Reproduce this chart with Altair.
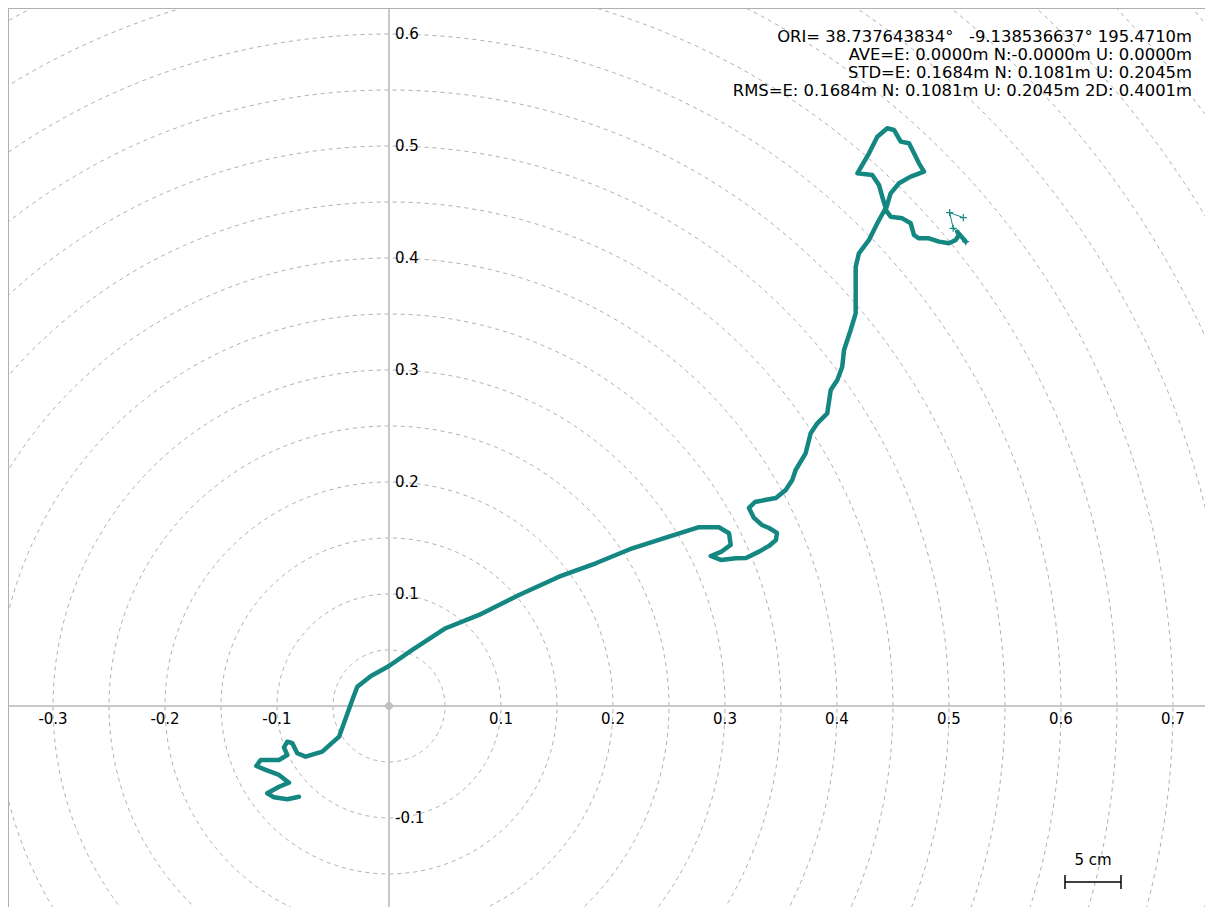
import altair as alt
import pandas as pd
import numpy as np

# ---- trajectory (E, N in metres) ----
traj_e = [-0.0804, -0.0908, -0.1027, -0.1087, -0.0982, -0.0893, -0.0982, -0.1101, -0.1185, -0.1146,
          -0.0982, -0.0908, -0.0938, -0.0908, -0.0863, -0.0819, -0.0744, -0.0596, -0.0446, -0.0328,
          -0.0283, -0.0161, 0.0000, 0.0208, 0.0506, 0.0804, 0.1161, 0.1518, 0.1846, 0.2172,
          0.2500, 0.2768, 0.2946, 0.3036, 0.3051, 0.2964, 0.2872, 0.2964, 0.3096, 0.3188,
          0.3304, 0.3393, 0.3455, 0.3464, 0.3393, 0.3330, 0.3259, 0.3214, 0.3268, 0.3357,
          0.3455, 0.3542, 0.3601, 0.3631, 0.3720, 0.3765, 0.3824, 0.3913, 0.3944, 0.4003,
          0.4047, 0.4063, 0.4122, 0.4167, 0.4167, 0.4196, 0.4286, 0.4360, 0.4435, 0.4404,
          0.4375, 0.4315, 0.4182, 0.4286, 0.4360, 0.4449, 0.4509, 0.4569, 0.4643, 0.4688,
          0.4732, 0.4777, 0.4658, 0.4554, 0.4479, 0.4435, 0.4479, 0.4583, 0.4658, 0.4688,
          0.4732, 0.4821, 0.4911, 0.5000, 0.5060, 0.5089, 0.5074, 0.5149]
traj_n = [-0.0810, -0.0833, -0.0815, -0.0780, -0.0721, -0.0685, -0.0616, -0.0571, -0.0536, -0.0482,
          -0.0482, -0.0438, -0.0369, -0.0319, -0.0333, -0.0422, -0.0453, -0.0408, -0.0274, 0.0054,
          0.0172, 0.0268, 0.0357, 0.0500, 0.0694, 0.0813, 0.0991, 0.1154, 0.1274, 0.1408,
          0.1512, 0.1596, 0.1596, 0.1542, 0.1438, 0.1375, 0.1339, 0.1304, 0.1319, 0.1321,
          0.1378, 0.1429, 0.1482, 0.1545, 0.1589, 0.1616, 0.1679, 0.1768, 0.1821, 0.1839,
          0.1857, 0.1929, 0.2018, 0.2107, 0.2256, 0.2435, 0.2524, 0.2613, 0.2821, 0.2911,
          0.3029, 0.3179, 0.3357, 0.3506, 0.3922, 0.4042, 0.4161, 0.4310, 0.4446, 0.4547,
          0.4652, 0.4741, 0.4756, 0.4935, 0.5083, 0.5158, 0.5143, 0.5039, 0.5024, 0.4935,
          0.4845, 0.4771, 0.4726, 0.4667, 0.4577, 0.4429, 0.4369, 0.4354, 0.4310, 0.4205,
          0.4176, 0.4176, 0.4146, 0.4131, 0.4161, 0.4205, 0.4235, 0.4146]

# last few isolated epochs (thin line with + markers)
tail_e = [0.5074, 0.5038, 0.5006, 0.5128]
tail_n = [0.4235, 0.4265, 0.4405, 0.4360]
mark_e = [0.5149, 0.5038, 0.5006, 0.5128]
mark_n = [0.4146, 0.4265, 0.4405, 0.4360]

xtick_vals = [-0.3, -0.2, -0.1, 0.1, 0.2, 0.3, 0.4, 0.5, 0.6, 0.7]
ytick_vals = [-0.1, 0.1, 0.2, 0.3, 0.4, 0.5, 0.6]
ring_step = 0.05
ring_count = 20

info_lines = [
    "ORI= 38.737643834°\u00a0\u00a0 -9.138536637° 195.4710m",
    "AVE=E: 0.0000m N:-0.0000m U: 0.0000m",
    "STD=E: 0.1684m N: 0.1081m U: 0.2045m",
    "RMS=E: 0.1684m N: 0.1081m U: 0.2045m 2D: 0.4001m",
]
scale_bar_label = "5 cm"
scale_bar_len = 0.05

# ---- layout ----
W, H = 1197, 899
X0, X1 = -0.3402, 0.7286
Y0, Y1 = -0.1795, 0.6232
FONT = "DejaVu Sans"
TEAL = "#148782"

xs = alt.Scale(domain=[X0, X1], nice=False, zero=False)
ys = alt.Scale(domain=[Y0, Y1], nice=False, zero=False)

def X(f):
    return alt.X(f, type="quantitative", scale=xs, axis=None)

def Y(f):
    return alt.Y(f, type="quantitative", scale=ys, axis=None)

# concentric dashed range rings (grid)
ang = np.linspace(0, 2 * np.pi, 241)
rows = []
for k in range(1, ring_count + 1):
    r = k * ring_step
    for i, a in enumerate(ang):
        rows.append({"ring": k, "i": i, "x": r * np.cos(a), "y": r * np.sin(a)})
rings_df = pd.DataFrame(rows)

rings = alt.Chart(rings_df).mark_line(
    color="#b0b0b0", strokeWidth=1, strokeDash=[4, 4], clip=True
).encode(x=X("x"), y=Y("y"), detail="ring:N", order="i:Q")

zero_df = pd.DataFrame({"z": [0.0]})
hline = alt.Chart(zero_df).mark_rule(color="#c8c8c8", strokeWidth=2).encode(
    y=Y("z"), x=alt.value(0), x2=alt.value(W))
vline = alt.Chart(zero_df).mark_rule(color="#c8c8c8", strokeWidth=2).encode(
    x=X("z"), y=alt.value(0), y2=alt.value(H))

frame_left = alt.Chart(zero_df).mark_rule(color="#b0b0b0", strokeWidth=2).encode(
    x=alt.value(0), y=alt.value(0), y2=alt.value(H))
frame_top = alt.Chart(zero_df).mark_rule(color="#b0b0b0", strokeWidth=2).encode(
    y=alt.value(0), x=alt.value(0), x2=alt.value(W))

origin = alt.Chart(pd.DataFrame({"x": [0.0], "y": [0.0]})).mark_point(
    shape="diamond", filled=True, size=110, color="#c0c0c0", opacity=1
).encode(x=X("x"), y=Y("y"))

traj_df = pd.DataFrame({"e": traj_e, "n": traj_n, "i": range(len(traj_e))})
traj = alt.Chart(traj_df).mark_line(
    color=TEAL, strokeWidth=4.5, strokeJoin="round", strokeCap="round"
).encode(x=X("e"), y=Y("n"), order="i:Q")

tail_df = pd.DataFrame({"e": tail_e, "n": tail_n, "i": range(len(tail_e))})
tail = alt.Chart(tail_df).mark_line(color=TEAL, strokeWidth=1).encode(
    x=X("e"), y=Y("n"), order="i:Q")

marks_df = pd.DataFrame({"e": mark_e, "n": mark_n})
crosses = alt.Chart(marks_df).mark_point(
    shape="M-1,0L1,0M0,-1L0,1", filled=False, size=50, color=TEAL, strokeWidth=1.2, opacity=1
).encode(x=X("e"), y=Y("n"))

xt_df = pd.DataFrame({"v": xtick_vals, "z": 0.0, "t": [f"{v:.1f}" for v in xtick_vals]})
xlabels = alt.Chart(xt_df).mark_text(
    font=FONT, fontSize=15, color="#000", baseline="top", align="center", dy=6
).encode(x=X("v"), y=Y("z"), text="t:N")

yt_df = pd.DataFrame({"v": ytick_vals, "z": 0.0, "t": [f"{v:.1f}" for v in ytick_vals]})
ylabels = alt.Chart(yt_df).mark_text(
    font=FONT, fontSize=15, color="#000", baseline="middle", align="left", dx=6
).encode(x=X("z"), y=Y("v"), text="t:N")

info_df = pd.DataFrame({"t": ["\n".join(info_lines)]})
info = alt.Chart(info_df).mark_text(
    font=FONT, fontSize=16.4, color="#000", align="right", baseline="top",
    lineBreak="\n", lineHeight=18
).encode(x=alt.value(W - 13), y=alt.value(21), text="t:N")

sb_df = pd.DataFrame({"a": [0.6036], "b": [0.6036 + scale_bar_len],
                      "m": [0.6036 + scale_bar_len / 2], "t": [scale_bar_label]})
sb_line = alt.Chart(sb_df).mark_rule(color="#000", strokeWidth=1.5).encode(
    x=X("a"), x2="b:Q", y=alt.value(874))
sb_cap1 = alt.Chart(sb_df).mark_rule(color="#000", strokeWidth=1.5).encode(
    x=X("a"), y=alt.value(867), y2=alt.value(881))
sb_cap2 = alt.Chart(sb_df).mark_rule(color="#000", strokeWidth=1.5).encode(
    x=X("b"), y=alt.value(867), y2=alt.value(881))
sb_text = alt.Chart(sb_df).mark_text(
    font=FONT, fontSize=15, color="#000", baseline="middle", align="center"
).encode(x=X("m"), y=alt.value(852), text="t:N")

chart = alt.layer(
    rings, hline, vline, frame_left, frame_top, origin, traj, tail, crosses,
    xlabels, ylabels, info, sb_line, sb_cap1, sb_cap2, sb_text
).properties(
    width=W, height=H, padding=0,
    autosize=alt.AutoSizeParams(type="none"),
    background="white",
).configure_view(stroke=None)

chart.save("out.html", embed_options={"renderer": "svg", "actions": False})
